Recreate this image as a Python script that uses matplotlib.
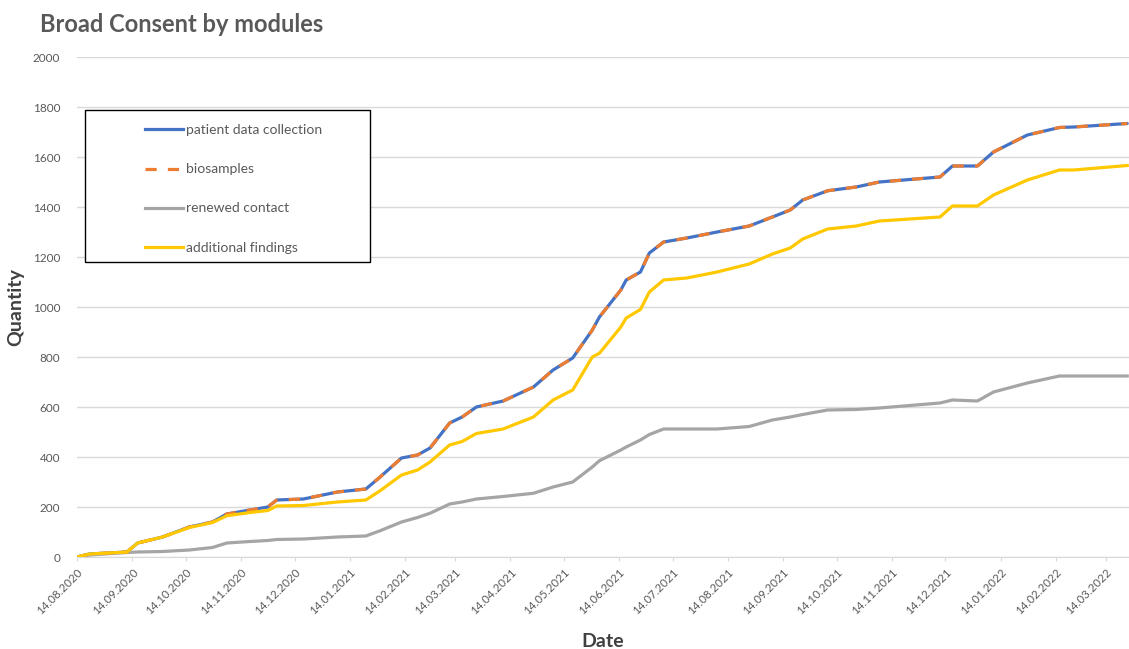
import matplotlib
matplotlib.use("Agg")
import matplotlib.pyplot as plt
import matplotlib.dates as mdates
from matplotlib.patches import Rectangle
from matplotlib.lines import Line2D
import pandas as pd

plt.rcParams['font.family'] = ['Lato', 'DejaVu Sans']

dates = ["2020-08-14", "2020-08-21", "2020-09-11", "2020-09-17", "2020-10-01",
         "2020-10-16", "2020-10-29", "2020-11-06", "2020-11-19", "2020-11-29",
         "2020-12-04", "2020-12-19", "2021-01-07", "2021-01-23", "2021-01-31",
         "2021-02-12", "2021-02-21", "2021-02-28", "2021-03-11", "2021-03-18",
         "2021-03-26", "2021-04-10", "2021-04-27", "2021-05-08", "2021-05-19",
         "2021-05-30", "2021-06-03", "2021-06-15", "2021-06-18", "2021-06-26",
         "2021-07-01", "2021-07-09", "2021-07-22", "2021-08-08", "2021-08-26",
         "2021-09-08", "2021-09-18", "2021-09-25", "2021-10-09", "2021-10-25",
         "2021-11-07", "2021-12-11", "2021-12-18", "2022-01-01", "2022-01-10",
         "2022-01-29", "2022-02-16", "2022-02-24", "2022-03-26"]

patient_data = [0, 12, 20, 56, 80, 120, 140, 172, 188, 200,
                228, 232, 260, 272, 320, 396, 408, 436, 536, 560,
                600, 624, 680, 748, 796, 908, 960, 1068, 1108, 1140,
                1216, 1260, 1276, 1300, 1324, 1360, 1388, 1428, 1465, 1480,
                1500, 1520, 1564, 1564, 1620, 1688, 1718, 1720, 1734]
biosamples = list(patient_data)
renewed_contact = [0, 8, 18, 20, 22, 28, 38, 56, 62, 66,
                   70, 72, 80, 84, 105, 140, 158, 175, 212, 220,
                   232, 242, 255, 280, 300, 360, 385, 428, 440, 468,
                   490, 512, 512, 512, 522, 548, 560, 570, 588, 590,
                   596, 616, 628, 624, 660, 696, 724, 724, 724]
additional_findings = [0, 12, 20, 56, 80, 118, 138, 165, 178, 186,
                       204, 206, 220, 228, 265, 328, 348, 380, 448, 462,
                       494, 512, 560, 628, 668, 800, 815, 920, 956, 990,
                       1060, 1108, 1116, 1140, 1172, 1212, 1236, 1272, 1312, 1324,
                       1344, 1360, 1404, 1404, 1448, 1508, 1548, 1548, 1566]

labels = ["patient data collection", "biosamples", "renewed contact", "additional findings"]

x = pd.to_datetime(dates)

W, H = 1129, 649
fig = plt.figure(figsize=(W / 100, H / 100), dpi=100)
ax = fig.add_axes([77 / W, (H - 557) / H, (W - 77) / W, 500 / H])

blue = '#4472C4'
orange = '#ED7D31'
gray = '#A5A5A5'
yellow = '#FFC800'
lw = 2.3

ax.plot(x, patient_data, color=blue, lw=lw, zorder=3, solid_capstyle='round')
ax.plot(x, biosamples, color=orange, lw=lw, zorder=4, dashes=(3.5, 3.5))
ax.plot(x, renewed_contact, color=gray, lw=lw, zorder=3)
ax.plot(x, additional_findings, color=yellow, lw=lw, zorder=5)

ax.set_xlim(pd.Timestamp("2020-08-14"), pd.Timestamp("2022-03-27"))
ax.set_ylim(0, 2000)
ax.set_yticks(range(0, 2001, 200))
ax.grid(axis='y', color='#D9D9D9', lw=1.0)
ax.set_axisbelow(True)

ticks = pd.date_range("2020-08-14", "2022-03-14", freq=pd.DateOffset(months=1))
ax.set_xticks(ticks)
ax.xaxis.set_major_formatter(mdates.DateFormatter("%d.%m.%Y"))
for lab in ax.get_xticklabels():
    lab.set_rotation(45)
    lab.set_ha('right')
    lab.set_rotation_mode('anchor')

for s in ['top', 'right', 'left']:
    ax.spines[s].set_visible(False)
ax.spines['bottom'].set_color('#D9D9D9')
ax.tick_params(axis='y', length=0, pad=12, labelsize=8.5, labelcolor='#595959')
ax.tick_params(axis='x', length=3, color='#D9D9D9', pad=4, labelsize=8.3, labelcolor='#595959')

ax.set_ylabel("Quantity", fontsize=14, fontweight='bold', color='#404040', labelpad=6)
ax.set_xlabel("Date", fontsize=14, fontweight='bold', color='#404040', labelpad=12)

fig.text(40 / W, 1 - 24 / H, "Broad Consent by modules", fontsize=17, fontweight='bold',
         color='#595959', va='center', ha='left')

# legend box
def px2ax(px, py):
    return ((px - 77) / (W - 77), (557 - py) / 500)

x0, y0 = px2ax(85, 262)
x1, y1 = px2ax(370, 110)
ax.add_patch(Rectangle((x0, y0), x1 - x0, y1 - y0, transform=ax.transAxes,
                       facecolor='white', edgecolor='black', lw=1.0, zorder=10))
handles = [Line2D([], [], color=blue, lw=lw),
           Line2D([], [], color=orange, lw=lw, dashes=(3.5, 3.5)),
           Line2D([], [], color=gray, lw=lw),
           Line2D([], [], color=yellow, lw=lw)]
lx, ly = px2ax(137, 116)
leg = ax.legend(handles, labels, loc='upper left', bbox_to_anchor=(lx, ly),
                frameon=False, fontsize=10, labelcolor='#595959',
                handlelength=2.7, handletextpad=0.2, labelspacing=1.95,
                borderpad=0.6, borderaxespad=0)
leg.set_zorder(11)

fig.savefig("out.png", dpi=100)
